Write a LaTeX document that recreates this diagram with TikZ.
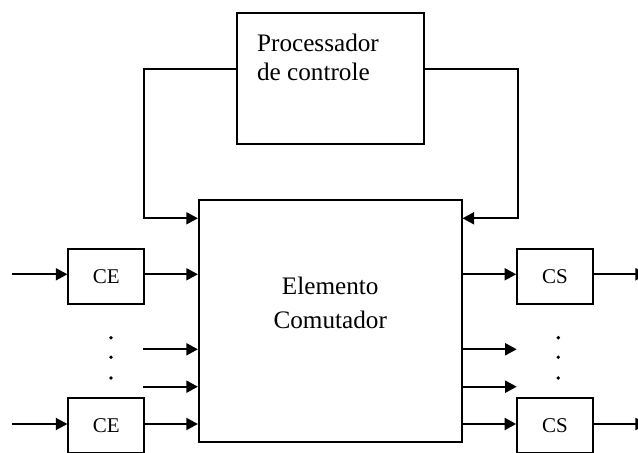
\documentclass[tikz,border=0pt]{standalone}
\usepackage{fontspec}
\setmainfont{Liberation Serif}
\usetikzlibrary{arrows.meta}
\begin{document}
\begin{tikzpicture}[x=0.5pt,y=-0.5pt,
  box/.style={draw, line width=1pt, inner sep=0pt, anchor=center},
  lbl/.style={font=\fontsize{10.5}{12}\selectfont},
  link/.style={line width=1pt, -{Triangle[length=5.8pt,width=6pt]}},
  dotmark/.style={circle, fill, inner sep=0pt, minimum size=1.9pt}]
\useasboundingbox (0,0) rectangle (638,453);
\clip (0,0) rectangle (638,453);

% control processor
\node[box, minimum width=93.7pt, minimum height=65.3pt] (proc) at (330.3,78.7) {};
\node[anchor=base west, align=left, inner sep=0pt,
      font=\fontsize{12.6}{14.5}\selectfont] (proctxt) at (256.7,80.7)
      {Processador\\de controle};

% switching element
\node[box, minimum width=131.3pt, minimum height=121pt] (main) at (330.2,321) {};
\node[anchor=base, align=center, inner sep=0pt,
      font=\fontsize{12.6}{17}\selectfont] (maintxt) at (330.2,329)
      {Elemento\\Comutador};

% input / output controllers
\node[box, lbl, minimum width=37.8pt, minimum height=27.5pt] (ce1) at (106.2,276.8) {CE};
\node[box, lbl, minimum width=37.8pt, minimum height=27.5pt] (ce2) at (106.2,425.8) {CE};
\node[box, lbl, minimum width=37.8pt, minimum height=27.5pt] (cs1) at (555,276.8) {CS};
\node[box, lbl, minimum width=37.8pt, minimum height=27.5pt] (cs2) at (555,425.8) {CS};

% line endpoints
\coordinate (in1) at (12,274.3);
\coordinate (in2) at (12,424);
\coordinate (out1) at (647,274.3);
\coordinate (out2) at (647,424);
\coordinate (m1) at (143,349.3);
\coordinate (m2) at (143,386.7);
\coordinate (r1) at (516.7,349.3);
\coordinate (r2) at (516.7,386.7);
\coordinate (ctl) at (144,69.3);
\coordinate (cbl) at (144,218.3);
\coordinate (ctr) at (517.7,69.3);
\coordinate (cbr) at (517.7,218.3);

% inputs
\draw[link] (in1) -- (ce1.west |- in1);
\draw[link] (ce1.east |- in1) -- (main.west |- in1);
\draw[link] (in2) -- (ce2.west |- in2);
\draw[link] (ce2.east |- in2) -- (main.west |- in2);
\draw[link] (m1) -- (main.west |- m1);
\draw[link] (m2) -- (main.west |- m2);

% outputs
\draw[link] (main.east |- in1) -- (cs1.west |- in1);
\draw[link] (cs1.east |- in1) -- (out1);
\draw[link] (main.east |- in2) -- (cs2.west |- in2);
\draw[link] (cs2.east |- in2) -- (out2);
\draw[link] (main.east |- r1) -- (r1);
\draw[link] (main.east |- r2) -- (r2);

% control paths
\draw[link] (proc.west |- ctl) -- (ctl) -- (cbl) -- (main.west |- cbl);
\draw[link] (proc.east |- ctr) -- (ctr) -- (cbr) -- (main.east |- cbr);

% ellipsis dots
\node[dotmark] (dl1) at (111,337.7) {};
\node[dotmark] (dl2) at (111,357.3) {};
\node[dotmark] (dl3) at (111,378) {};
\node[dotmark] (dr1) at (558.3,337.7) {};
\node[dotmark] (dr2) at (558.3,357.3) {};
\node[dotmark] (dr3) at (558.3,378) {};
\end{tikzpicture}
\end{document}
